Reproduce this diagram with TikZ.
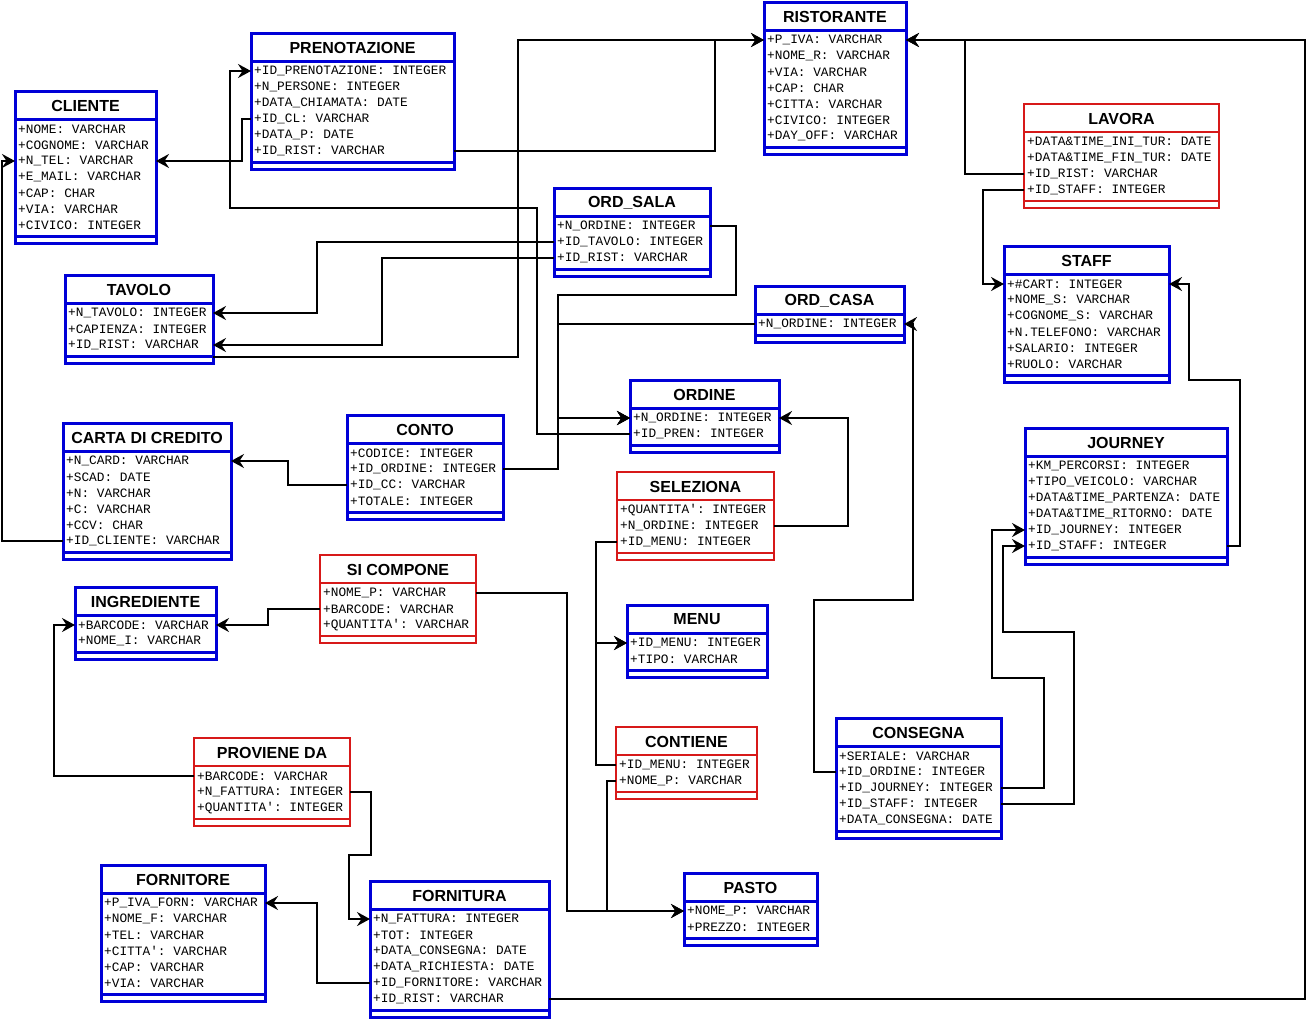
\documentclass[tikz,border=0pt]{standalone}
\usepackage{fontspec}
\newfontfamily\rowf{Liberation Mono}
\newfontfamily\titf{Liberation Sans}
\usetikzlibrary{arrows.meta}
\definecolor{ublue}{RGB}{0,0,215}
\definecolor{ured}{RGB}{215,25,25}
\tikzset{
  bluebox/.style={draw=ublue, line width=3pt},
  redbox/.style={draw=ured, line width=2pt},
  titletext/.style={inner sep=0pt, font=\titf\bfseries\fontsize{16}{18}\selectfont},
  rowtext/.style={anchor=west, inner sep=0pt, font=\rowf\fontsize{12.8}{14}\selectfont},
  conn/.style={draw=black, line width=2pt, line join=miter},
  arr/.style={-{Stealth[length=13pt,width=14pt,inset=4.5pt]}}
}
\newcommand\enttab[7]{%
  \pgfmathsetmacro\ETsep{#4+28}%
  \gdef\ETn{0}%
  \foreach \r [count=\i] in {#7}{\xdef\ETn{\i}}%
  \pgfmathsetmacro\ETbs{\ETsep+16*\ETn+5}%
  \pgfmathsetmacro\ETbot{\ETbs+7}%
  \node[#2, fill=white, inner sep=0pt, outer sep=0pt, anchor=north west,
        minimum width={(#5-#3)*1pt}, minimum height={(\ETbot-#4)*1pt}] (#1) at (#3,#4) {};
  \draw[#2] (#3,\ETsep) -- (#5,\ETsep);
  \draw[#2] (#3,\ETbs) -- (#5,\ETbs);
  \node[titletext] (#1-t) at ({(#3+#5)/2},{#4+14.5}) {#6};
  \foreach \r [count=\i] in {#7}{\node[rowtext] (#1-\i) at ({#3+3},{\ETsep+10+16*(\i-1)}) {\r};}%
}
\begin{document}
\begin{tikzpicture}[x=1pt,y=-1pt]
\useasboundingbox (0,0) rectangle (1308,1020);
\fill[white] (0,0) rectangle (1308,1020);

\enttab{cli}{bluebox}{15}{91}{156}{CLIENTE}{+NOME: VARCHAR, +COGNOME: VARCHAR, +N\_TEL: VARCHAR, +E\_MAIL: VARCHAR, +CAP: CHAR, +VIA: VARCHAR, +CIVICO: INTEGER}
\enttab{pre}{bluebox}{251}{33}{454}{PRENOTAZIONE}{+ID\_PRENOTAZIONE: INTEGER, +N\_PERSONE: INTEGER, +DATA\_CHIAMATA: DATE, +ID\_CL: VARCHAR, +DATA\_P: DATE, +ID\_RIST: VARCHAR}
\enttab{ris}{bluebox}{764}{2}{906}{RISTORANTE}{+P\_IVA: VARCHAR, +NOME\_R: VARCHAR, +VIA: VARCHAR, +CAP: CHAR, +CITTA: VARCHAR, +CIVICO: INTEGER, +DAY\_OFF: VARCHAR}
\enttab{lav}{redbox}{1024}{104}{1219}{LAVORA}{+DATA\&TIME\_INI\_TUR: DATE, +DATA\&TIME\_FIN\_TUR: DATE, +ID\_RIST: VARCHAR, +ID\_STAFF: INTEGER}
\enttab{sta}{bluebox}{1004}{246}{1169}{STAFF}{+\#CART: INTEGER, +NOME\_S: VARCHAR, +COGNOME\_S: VARCHAR, +N.TELEFONO: VARCHAR, +SALARIO: INTEGER, +RUOLO: VARCHAR}
\enttab{osa}{bluebox}{554}{188}{710}{ORD\_SALA}{+N\_ORDINE: INTEGER, +ID\_TAVOLO: INTEGER, +ID\_RIST: VARCHAR}
\enttab{oca}{bluebox}{755}{286}{904}{ORD\_CASA}{+N\_ORDINE: INTEGER}
\enttab{tav}{bluebox}{65}{275}{213}{TAVOLO}{+N\_TAVOLO: INTEGER, +CAPIENZA: INTEGER, +ID\_RIST: VARCHAR}
\enttab{ord}{bluebox}{630}{380}{779}{ORDINE}{+N\_ORDINE: INTEGER, +ID\_PREN: INTEGER}
\enttab{sel}{redbox}{617}{472}{774}{SELEZIONA}{+QUANTITA\textquotesingle: INTEGER, +N\_ORDINE: INTEGER, +ID\_MENU: INTEGER}
\enttab{cc}{bluebox}{63}{423}{231}{CARTA DI CREDITO}{+N\_CARD: VARCHAR, +SCAD: DATE, +N: VARCHAR, +C: VARCHAR, +CCV: CHAR, +ID\_CLIENTE: VARCHAR}
\enttab{con}{bluebox}{347}{415}{503}{CONTO}{+CODICE: INTEGER, +ID\_ORDINE: INTEGER, +ID\_CC: VARCHAR, +TOTALE: INTEGER}
\enttab{sic}{redbox}{320}{555}{476}{SI COMPONE}{+NOME\_P: VARCHAR, +BARCODE: VARCHAR, +QUANTITA\textquotesingle: VARCHAR}
\enttab{ing}{bluebox}{75}{587}{216}{INGREDIENTE}{+BARCODE: VARCHAR, +NOME\_I: VARCHAR}
\enttab{pro}{redbox}{194}{738}{350}{PROVIENE DA}{+BARCODE: VARCHAR, +N\_FATTURA: INTEGER, +QUANTITA\textquotesingle: INTEGER}
\enttab{men}{bluebox}{627}{605}{767}{MENU}{+ID\_MENU: INTEGER, +TIPO: VARCHAR}
\enttab{cnt}{redbox}{616}{727}{757}{CONTIENE}{+ID\_MENU: INTEGER, +NOME\_P: VARCHAR}
\enttab{jou}{bluebox}{1025}{428}{1227}{JOURNEY}{+KM\_PERCORSI: INTEGER, +TIPO\_VEICOLO: VARCHAR, +DATA\&TIME\_PARTENZA: DATE, +DATA\&TIME\_RITORNO: DATE, +ID\_JOURNEY: INTEGER, +ID\_STAFF: INTEGER}
\enttab{cns}{bluebox}{836}{718}{1001}{CONSEGNA}{+SERIALE: VARCHAR, +ID\_ORDINE: INTEGER, +ID\_JOURNEY: INTEGER, +ID\_STAFF: INTEGER, +DATA\_CONSEGNA: DATE}
\enttab{frn}{bluebox}{101}{865}{265}{FORNITORE}{+P\_IVA\_FORN: VARCHAR, +NOME\_F: VARCHAR, +TEL: VARCHAR, +CITTA\textquotesingle: VARCHAR, +CAP: VARCHAR, +VIA: VARCHAR}
\enttab{fra}{bluebox}{370}{881}{549}{FORNITURA}{+N\_FATTURA: INTEGER, +TOT: INTEGER, +DATA\_CONSEGNA: DATE, +DATA\_RICHIESTA: DATE, +ID\_FORNITORE: VARCHAR, +ID\_RIST: VARCHAR}
\enttab{pas}{bluebox}{684}{873}{817}{PASTO}{+NOME\_P: VARCHAR, +PREZZO: INTEGER}

% connectors
\draw[conn,arr] (pre.west|-pre-4) -- (242,0|-pre-4) -- (242,0|-cli-3) -- (cli.east|-cli-3);
\draw[conn,arr] (ord.west|-ord-2) -- (537,0|-ord-2) -- (537,208) -- (230,208) -- (230,0|-pre-1) -- (pre.west|-pre-1);
\draw[conn,arr] (pre.east|-pre-6) -- (715,0|-pre-6) -- (715,0|-ris-1) -- (ris.west|-ris-1);
\draw[conn,arr] (tav.east|-0,357) -- (518,357) -- (518,0|-ris-1) -- (ris.west|-ris-1);
\draw[conn,arr] (osa.west|-osa-2) -- (317,0|-osa-2) -- (317,0|-tav-1) -- (tav.east|-tav-1);
\draw[conn,arr] (osa.west|-osa-3) -- (382,0|-osa-3) -- (382,0|-tav-3) -- (tav.east|-tav-3);
\draw[conn,arr] (osa.east|-osa-1) -- (736,0|-osa-1) -- (736,295) -- (558,295) -- (558,0|-ord-1) -- (ord.west|-ord-1);
\draw[conn,arr] (oca.west|-oca-1) -- (558,0|-oca-1) -- (558,0|-ord-1) -- (ord.west|-ord-1);
\draw[conn,arr] (con.east|-con-2) -- (558,0|-con-2) -- (558,0|-ord-1) -- (ord.west|-ord-1);
\draw[conn,arr] (con.west|-con-3) -- (288,0|-con-3) -- (288,0|-cc-1) -- (cc.east|-cc-1);
\draw[conn,arr] (cc.west|-cc-6) -- (2,0|-cc-6) -- (2,0|-cli-3) -- (cli.west|-cli-3);
\draw[conn,arr] (sel.east|-sel-2) -- (848,0|-sel-2) -- (848,0|-ord-1) -- (ord.east|-ord-1);
\draw[conn,arr] (sel.west|-sel-3) -- (596,0|-sel-3) -- (596,0|-men-1) -- (men.west|-men-1);
\draw[conn,arr] (cnt.west|-cnt-1) -- (596,0|-cnt-1) -- (596,0|-men-1) -- (men.west|-men-1);
\draw[conn,arr] (cnt.west|-cnt-2) -- (607,0|-cnt-2) -- (607,0|-pas-1) -- (pas.west|-pas-1);
\draw[conn,arr] (sic.east|-sic-1) -- (567,0|-sic-1) -- (567,0|-pas-1) -- (pas.west|-pas-1);
\draw[conn,arr] (sic.west|-sic-2) -- (268,0|-sic-2) -- (268,0|-ing-1) -- (ing.east|-ing-1);
\draw[conn,arr] (pro.west|-pro-1) -- (54,0|-pro-1) -- (54,0|-ing-1) -- (ing.west|-ing-1);
\draw[conn,arr] (pro.east|-pro-2) -- (371,0|-pro-2) -- (371,855) -- (349,855) -- (349,0|-fra-1) -- (fra.west|-fra-1);
\draw[conn,arr] (fra.west|-fra-5) -- (317,0|-fra-5) -- (317,0|-frn-1) -- (frn.east|-frn-1);
\draw[conn,arr] (fra.east|-fra-6) -- (1305,0|-fra-6) -- (1305,0|-ris-1) -- (ris.east|-ris-1);
\draw[conn,arr] (lav.west|-lav-3) -- (965,0|-lav-3) -- (965,0|-ris-1) -- (ris.east|-ris-1);
\draw[conn,arr] (lav.west|-lav-4) -- (983,0|-lav-4) -- (983,0|-sta-1) -- (sta.west|-sta-1);
\draw[conn,arr] (jou.east|-jou-6) -- (1240,0|-jou-6) -- (1240,380) -- (1189,380) -- (1189,0|-sta-1) -- (sta.east|-sta-1);
\draw[conn,arr] (cns.east|-cns-3) -- (1044,0|-cns-3) -- (1044,678) -- (992,678) -- (992,0|-jou-5) -- (jou.west|-jou-5);
\draw[conn,arr] (cns.east|-cns-4) -- (1074,0|-cns-4) -- (1074,632) -- (1003,632) -- (1003,0|-jou-6) -- (jou.west|-jou-6);
\draw[conn,arr] (cns.west|-cns-2) -- (814,0|-cns-2) -- (814,600) -- (913,600) -- (913,0|-oca-1) -- (oca.east|-oca-1);
\end{tikzpicture}
\end{document}
